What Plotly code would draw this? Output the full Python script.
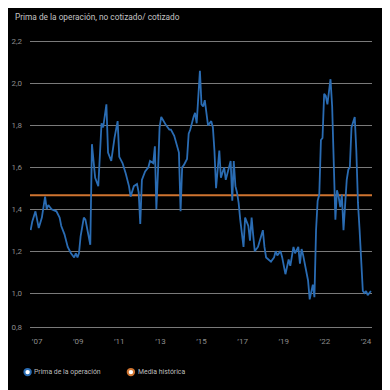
import plotly.graph_objects as go

dates = ["2006-09","2006-10","2006-12","2007-01","2007-02","2007-04","2007-06","2007-07","2007-08","2007-10",
         "2008-01","2008-03","2008-04","2008-06","2008-08","2008-10","2008-12","2009-01","2009-02","2009-03",
         "2009-04","2009-06","2009-07","2009-09","2009-10","2009-11","2010-01","2010-03","2010-04","2010-05",
         "2010-06","2010-08","2010-09","2010-11","2011-01","2011-03","2011-04","2011-06","2011-08","2011-10",
         "2011-11","2012-01","2012-03","2012-04","2012-05","2012-06","2012-08","2012-10","2012-11","2013-01",
         "2013-02","2013-03","2013-04","2013-05","2013-06","2013-08","2013-09","2013-11","2013-12","2014-02",
         "2014-03","2014-05","2014-06","2014-07","2014-08","2014-10","2014-11","2014-12","2015-02","2015-03",
         "2015-04","2015-06","2015-07","2015-08","2015-09","2015-10","2015-11","2016-01","2016-02","2016-03",
         "2016-04","2016-06","2016-07","2016-09","2016-10","2017-01","2017-02","2017-03","2017-04","2017-05",
         "2017-06","2017-07","2017-09","2017-10","2017-12","2018-01","2018-02","2018-03","2018-04","2018-06",
         "2018-08","2018-09","2018-10","2018-11","2019-02","2019-04","2019-05","2019-06","2019-08","2019-09",
         "2019-11","2020-01","2020-02","2020-04","2020-05","2020-07","2020-08","2020-09","2020-10","2020-12",
         "2021-01","2021-02","2021-04","2021-05","2021-06","2021-07","2021-08","2021-09","2021-10","2021-11",
         "2021-12","2022-01","2022-02","2022-03","2022-04","2022-05","2022-06","2022-07","2022-08","2022-09",
         "2022-10","2022-11","2022-12","2023-01","2023-02","2023-03","2023-04","2023-05","2023-06","2023-07",
         "2023-08","2023-09","2023-10","2023-11","2023-12","2024-01","2024-02","2024-03","2024-04"]

prima = [1.30,1.34,1.39,1.35,1.31,1.36,1.46,1.40,1.42,1.40,
         1.39,1.36,1.32,1.28,1.22,1.19,1.17,1.19,1.17,1.19,
         1.27,1.36,1.35,1.27,1.23,1.71,1.55,1.51,1.65,1.81,
         1.79,1.90,1.67,1.63,1.74,1.82,1.65,1.62,1.57,1.51,
         1.46,1.51,1.52,1.48,1.33,1.54,1.58,1.60,1.63,1.62,
         1.70,1.40,1.58,1.79,1.84,1.81,1.80,1.78,1.78,1.75,
         1.72,1.67,1.39,1.60,1.61,1.64,1.76,1.78,1.84,1.86,
         1.81,2.06,1.90,1.89,1.92,1.87,1.80,1.82,1.79,1.68,
         1.50,1.68,1.55,1.60,1.54,1.63,1.44,1.63,1.51,1.48,
         1.43,1.35,1.22,1.36,1.32,1.25,1.36,1.28,1.20,1.22,
         1.28,1.30,1.22,1.17,1.15,1.17,1.20,1.18,1.20,1.17,
         1.09,1.16,1.13,1.22,1.19,1.22,1.14,1.21,1.18,1.11,
         1.06,0.97,1.04,0.98,1.30,1.44,1.47,1.73,1.74,1.95,
         1.94,1.90,1.98,2.02,1.89,1.60,1.35,1.49,1.46,1.41,
         1.47,1.30,1.44,1.54,1.59,1.60,1.79,1.81,1.84,1.68,
         1.43,1.30,1.16,1.01,1.00,1.01,0.99,1.00,1.01]

media_historica = 1.467
x_range = ["2006-08-20", "2024-04-22"]

x_tick_vals = ["2007-01-01","2009-02-15","2011-04-01","2013-05-17","2015-07-02",
               "2017-08-16","2019-10-01","2021-11-15","2024-01-01"]
x_tick_text = ["’07","’09","’11","’13","’15","’17","’19","’22","’24"]
y_tick_vals = [0.836, 1.0, 1.2, 1.4, 1.6, 1.8, 2.0, 2.2]
y_tick_text = ["0,8","1,0","1,2","1,4","1,6","1,8","2,0","2,2"]

series_names = ["Prima de la operación", "Media histórica"]
BLUE = "#2a6cb3"
ORANGE = "#cf7430"
FONT = "Roboto, sans-serif"
W = H = 382  # page adds an 8px body margin

fig = go.Figure()
fig.add_trace(go.Scatter(x=x_range, y=[media_historica, media_historica], mode="lines",
                         line=dict(color=ORANGE, width=2), name=series_names[1],
                         showlegend=False, hoverinfo="skip"))
fig.add_trace(go.Scatter(x=dates, y=prima, mode="lines",
                         line=dict(color=BLUE, width=1.8), name=series_names[0],
                         showlegend=False))

# legend drawn manually (markers + labels)
leg_y = -0.122
for xm, xt, col, name in [(-0.007, 0.007, BLUE, series_names[0]),
                          (0.295, 0.309, ORANGE, series_names[1])]:
    fig.add_shape(type="circle", xref="paper", yref="paper",
                  xsizemode="pixel", ysizemode="pixel",
                  xanchor=xm, yanchor=leg_y, x0=-3.2, x1=3.2, y0=-3.2, y1=3.2,
                  fillcolor="white", line=dict(color=col, width=2))
    fig.add_annotation(x=xt, y=leg_y, xref="paper", yref="paper", text=name,
                       showarrow=False, xanchor="left", yanchor="middle",
                       font=dict(size=6.9, color="#bdbdbd", family=FONT))

fig.update_layout(
    width=W, height=H,
    paper_bgcolor="#000000", plot_bgcolor="#000000",
    margin=dict(l=22, r=18, t=23, b=55, autoexpand=False),
    title=dict(text="Prima de la operación, no cotizado/ cotizado",
               x=7/W, xanchor="left", y=1-9/H, yanchor="middle",
               automargin=False,
               font=dict(size=8.3, color="#c4c4c4", family=FONT)),
    font=dict(family=FONT, color="#8c8c8c", size=8),
    xaxis=dict(type="date", range=x_range, tickmode="array",
               tickvals=x_tick_vals, ticktext=x_tick_text,
               showgrid=False, zeroline=False, showline=False,
               automargin=False,
               ticks="", tickfont=dict(size=8, color="#8c8c8c")),
    yaxis=dict(range=[0.8, 2.25], tickmode="array",
               tickvals=y_tick_vals, ticktext=y_tick_text,
               showgrid=True, gridcolor="#7a7a7a", gridwidth=1,
               zeroline=False, showline=False, ticks="",
               automargin=False, ticklabelstandoff=7,
               tickfont=dict(size=8, color="#8c8c8c")),
    showlegend=False,
)

fig.write_html("out.html")
